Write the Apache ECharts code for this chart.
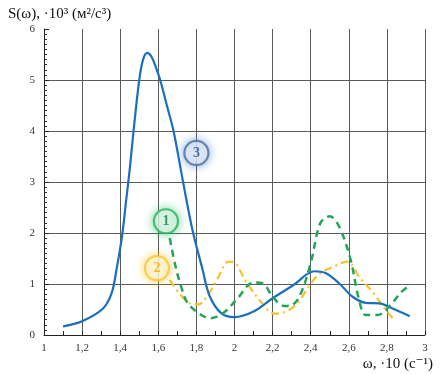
<!DOCTYPE html>
<html>
<head>
<meta charset="utf-8">
<script src="https://cdn.jsdelivr.net/npm/echarts@6/dist/echarts.min.js"></script>
<style>
  html, body { margin: 0; padding: 0; background: #fff; }
  #chart { width: 440px; height: 374px; }
</style>
</head>
<body>
<div id="chart"></div>
<script>
// ---- data ----
var xTicks = [1, 1.2, 1.4, 1.6, 1.8, 2, 2.2, 2.4, 2.6, 2.8, 3];
var yTicks = [0, 1, 2, 3, 4, 5, 6];

// Curve 3 (solid blue)
var s3X = [1.10,1.20,1.31,1.355,1.38,1.41,1.43,1.45,1.47,1.50,1.52,1.542,1.565,1.59,1.61,1.645,1.68,1.73,1.78,1.83,1.87,1.93,2.00,2.10,2.20,2.31,2.42,2.48,2.55,2.62,2.69,2.76,2.83,2.92];
var s3Y = [0.17,0.27,0.52,0.82,1.27,1.95,2.6,3.25,4.0,5.0,5.4,5.53,5.45,5.22,5.0,4.5,4.0,3.0,2.05,1.32,0.76,0.43,0.35,0.46,0.72,0.98,1.25,1.21,1.01,0.75,0.63,0.62,0.52,0.37];

// Curve 1 (green dashed)
var s1X = [1.66,1.69,1.72,1.75,1.80,1.87,1.94,2.01,2.10,2.15,2.20,2.26,2.29,2.34,2.40,2.45,2.50,2.55,2.61,2.65,2.69,2.75,2.82,2.87,2.92];
var s1Y = [1.9,1.35,0.95,0.65,0.46,0.33,0.43,0.69,1.03,1.01,0.75,0.57,0.57,0.75,1.41,2.19,2.33,2.12,1.47,0.75,0.39,0.39,0.59,0.82,0.98];

// Curve 2 (yellow dash-dot)
var s2X = [1.66,1.71,1.76,1.81,1.86,1.91,1.97,2.00,2.06,2.13,2.21,2.27,2.33,2.39,2.44,2.52,2.59,2.66,2.73,2.78,2.83];
var s2Y = [1.08,0.82,0.63,0.60,0.78,1.10,1.44,1.42,1.05,0.69,0.42,0.46,0.62,0.95,1.18,1.34,1.44,1.11,0.82,0.56,0.33];

// Curve badges: label, x, y
var badgeText = ['3', '1', '2'];
var badgeX = [1.80, 1.64, 1.593];
var badgeY = [3.57, 2.23, 1.31];

var c3 = '#1c6fbe', c1 = '#1fa65a', c2 = '#f6c22c';
var badgeBorder = ['#4a6d9c', '#22b35c', '#f7c52a'];
var badgeTextColor = ['#2d4f84', '#177a3e', '#e6ac0a'];
var badgeGlow = ['rgba(70,130,210,0.8)', 'rgba(40,190,100,0.8)', 'rgba(250,200,40,0.9)'];

function zip(a, b) { return a.map(function (v, i) { return [v, b[i]]; }); }

var serif = '"Liberation Serif", "DejaVu Serif", serif';

var chart = echarts.init(document.getElementById('chart'), null, { renderer: 'canvas' });
chart.setOption({
  animation: false,
  backgroundColor: '#fff',
  title: [
    { text: 'S(ω), ·10³ (м²/c³)', left: 3, top: 2,
      textStyle: { fontFamily: serif, fontSize: 15, fontWeight: 'normal', color: '#111' } },
    { text: 'ω, ·10 (c⁻¹)', right: 2, top: 352,
      textStyle: { fontFamily: serif, fontSize: 15, fontWeight: 'normal', color: '#111' } }
  ],
  grid: { left: 44, right: 15, top: 29, bottom: 39, containLabel: false },
  xAxis: {
    type: 'value', min: 1, max: 3, interval: 0.2,
    axisLine: { show: true, lineStyle: { color: '#222', width: 1 } },
    axisTick: { show: true, inside: true, length: 4, lineStyle: { color: '#222' } },
    minorTick: { show: true, splitNumber: 2, length: 4, lineStyle: { color: '#222' } },
    splitLine: { show: true, lineStyle: { color: '#5a5a5a', width: 1 } },
    axisLabel: {
      fontFamily: serif, fontSize: 11, color: '#333', margin: 8,
      formatter: function (v) { return String(Math.round(v * 10) / 10).replace('.', ','); }
    }
  },
  yAxis: {
    type: 'value', min: 0, max: 6, interval: 1,
    axisLine: { show: true, lineStyle: { color: '#222', width: 1 } },
    axisTick: { show: true, inside: true, length: 5, lineStyle: { color: '#222' } },
    minorTick: { show: true, splitNumber: 10, length: 3, lineStyle: { color: '#333' } },
    splitLine: { show: true, showMaxLine: false, lineStyle: { color: '#5a5a5a', width: 1 } },
    axisLabel: { fontFamily: serif, fontSize: 11, color: '#333', margin: 9 }
  },
  series: [
    { type: 'line', data: zip(s3X, s3Y), smooth: 0.35, symbol: 'none',
      lineStyle: { color: c3, width: 2.2 }, z: 3 },
    { type: 'line', data: zip(s1X, s1Y), smooth: 0.35, symbol: 'none',
      lineStyle: { color: c1, width: 2.5, type: [7, 5] }, z: 4 },
    { type: 'line', data: zip(s2X, s2Y), smooth: 0.35, symbol: 'none',
      lineStyle: { color: c2, width: 2.2, type: [8, 4, 2, 4] }, z: 2 },
    { type: 'scatter', symbol: 'circle', symbolSize: 24, z: 10,
      data: badgeText.map(function (t, i) {
        return {
          value: [badgeX[i], badgeY[i]],
          itemStyle: { color: 'rgba(255,255,255,0.9)', borderColor: badgeBorder[i], borderWidth: 2.2,
                       shadowBlur: 8, shadowColor: badgeGlow[i] },
          label: { show: true, position: 'inside', formatter: t,
                   fontFamily: serif, fontSize: 14, fontWeight: 'bold', color: badgeTextColor[i] }
        };
      })
    }
  ]
});
</script>
</body>
</html>
